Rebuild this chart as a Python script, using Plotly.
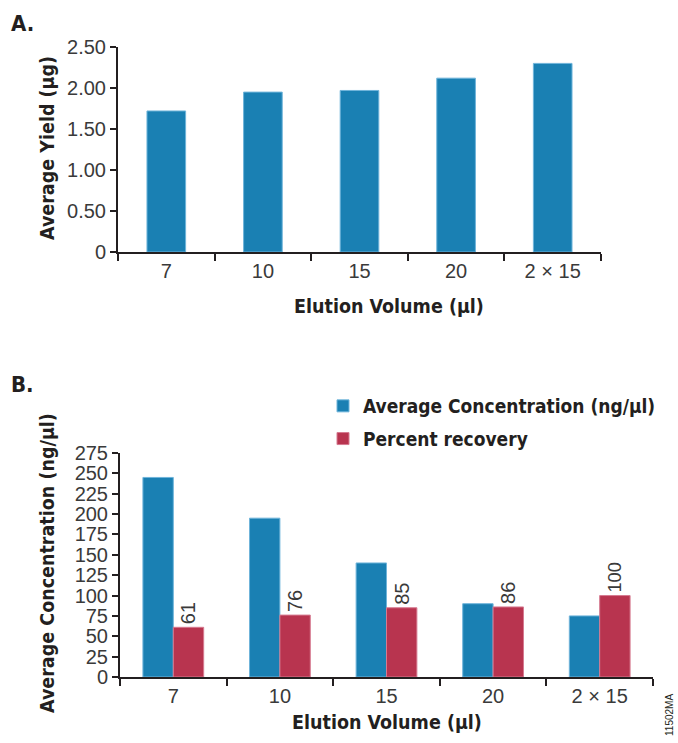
import plotly.graph_objects as go

# Elution volumes tested
volumes = ["7", "10", "15", "20", "2 × 15"]

# Panel A: average DNA yield (µg)
avg_yield = [1.72, 1.95, 1.97, 2.12, 2.30]
yield_ticks = [0, 0.5, 1.0, 1.5, 2.0, 2.5]
yield_tick_text = ["0", "0.50", "1.00", "1.50", "2.00", "2.50"]

# Panel B: average concentration (ng/µl) and percent recovery
avg_conc = [245, 195, 140, 90, 75]
pct_recovery = [61, 76, 85, 86, 100]
conc_ticks = list(range(0, 276, 25))

BLUE = "#1a80b3"
BLUE_EDGE = "#6fb4da"
RED = "#b8344f"
RED_EDGE = "#d67a90"
INK = "#231f20"
TICK_INK = "#3a3a3a"

W, H = 678, 743
BOLD = "DejaVu Sans Condensed, Liberation Sans Narrow, sans-serif"
LIGHT = "Liberation Sans, Arial, sans-serif"
TITLE_SIZE = 19.5
TICK_SIZE = 20


def px_x(x):
    return x / W


def px_y(y):
    return 1 - y / H


fig = go.Figure()

fig.add_trace(go.Bar(
    x=volumes, y=avg_yield, xaxis="x", yaxis="y",
    marker=dict(color=BLUE, line=dict(color=BLUE_EDGE, width=1)),
    showlegend=False, hoverinfo="x+y",
))

fig.add_trace(go.Bar(
    x=volumes, y=avg_conc, xaxis="x2", yaxis="y2",
    name="Average Concentration (ng/µl)", legendgroup="conc",
    width=0.285, offset=-0.285,
    marker=dict(color=BLUE, line=dict(color=BLUE_EDGE, width=1)),
))
fig.add_trace(go.Bar(
    x=volumes, y=pct_recovery, xaxis="x2", yaxis="y2",
    name="Percent recovery", legendgroup="rec",
    width=0.285, offset=0.0,
    marker=dict(color=RED, line=dict(color=RED_EDGE, width=1)),
    text=[str(v) for v in pct_recovery], textposition="outside",
    textangle=-90, cliponaxis=False,
    textfont=dict(family=LIGHT, size=TICK_SIZE, color=TICK_INK),
))

xaxis_common = dict(
    type="category", showline=True, linecolor=INK, linewidth=2,
    ticks="outside", tickson="boundaries", ticklen=7, tickwidth=1.5,
    tickcolor=INK, showgrid=False, zeroline=False, automargin=False,
    tickfont=dict(family=LIGHT, size=TICK_SIZE, color=TICK_INK),
)
yaxis_common = dict(
    showline=True, linecolor=INK, linewidth=2, ticks="outside",
    ticklen=6, tickwidth=1.5, tickcolor=INK, showgrid=False,
    zeroline=False, automargin=False,
    tickfont=dict(family=LIGHT, size=TICK_SIZE, color=TICK_INK),
)

fig.update_layout(
    width=W, height=H,
    margin=dict(l=0, r=0, t=0, b=0, autoexpand=False),
    paper_bgcolor="white", plot_bgcolor="white",
    bargap=0.6,
    xaxis=dict(domain=[px_x(118), px_x(601)], anchor="y", **xaxis_common),
    yaxis=dict(domain=[px_y(252), px_y(47)], anchor="x", range=[0, 2.5],
               tickvals=yield_ticks, ticktext=yield_tick_text, **yaxis_common),
    xaxis2=dict(domain=[px_x(120), px_x(653)], anchor="y2", **xaxis_common),
    yaxis2=dict(domain=[px_y(677), px_y(453)], anchor="x2", range=[0, 275],
                tickvals=conc_ticks, **yaxis_common),
    legend=dict(
        x=px_x(323), y=px_y(387), xanchor="left", yanchor="top",
        font=dict(family=BOLD, size=19, color=INK, weight="bold"),
        bgcolor="rgba(0,0,0,0)", tracegroupgap=5,
    ),
)

ann_font = dict(family=BOLD, size=TITLE_SIZE, color=INK, weight="bold")
annotations = [
    dict(text="A.", x=px_x(9), y=px_y(24), xanchor="left", yanchor="middle",
         size=22),
    dict(text="B.", x=px_x(9), y=px_y(384), xanchor="left", yanchor="middle",
         size=22),
    dict(text="Average Yield (µg)", x=px_x(47), y=px_y(148),
         xanchor="center", yanchor="middle", textangle=-90),
    dict(text="Elution Volume (µl)", x=px_x(389), y=px_y(306),
         xanchor="center", yanchor="middle"),
    dict(text="Average Concentration (ng/µl)", x=px_x(47), y=px_y(563),
         xanchor="center", yanchor="middle", textangle=-90),
    dict(text="Elution Volume (µl)", x=px_x(387), y=px_y(722),
         xanchor="center", yanchor="middle"),
]
for a in annotations:
    size = a.pop("size", TITLE_SIZE)
    fig.add_annotation(xref="paper", yref="paper", showarrow=False,
                       font=dict(ann_font, size=size), **a)

fig.add_annotation(text="11502MA", xref="paper", yref="paper",
                   x=px_x(669), y=px_y(715), showarrow=False, textangle=-90,
                   xanchor="center", yanchor="middle",
                   font=dict(family=LIGHT, size=10, color=INK))

fig.write_html("out.html")
